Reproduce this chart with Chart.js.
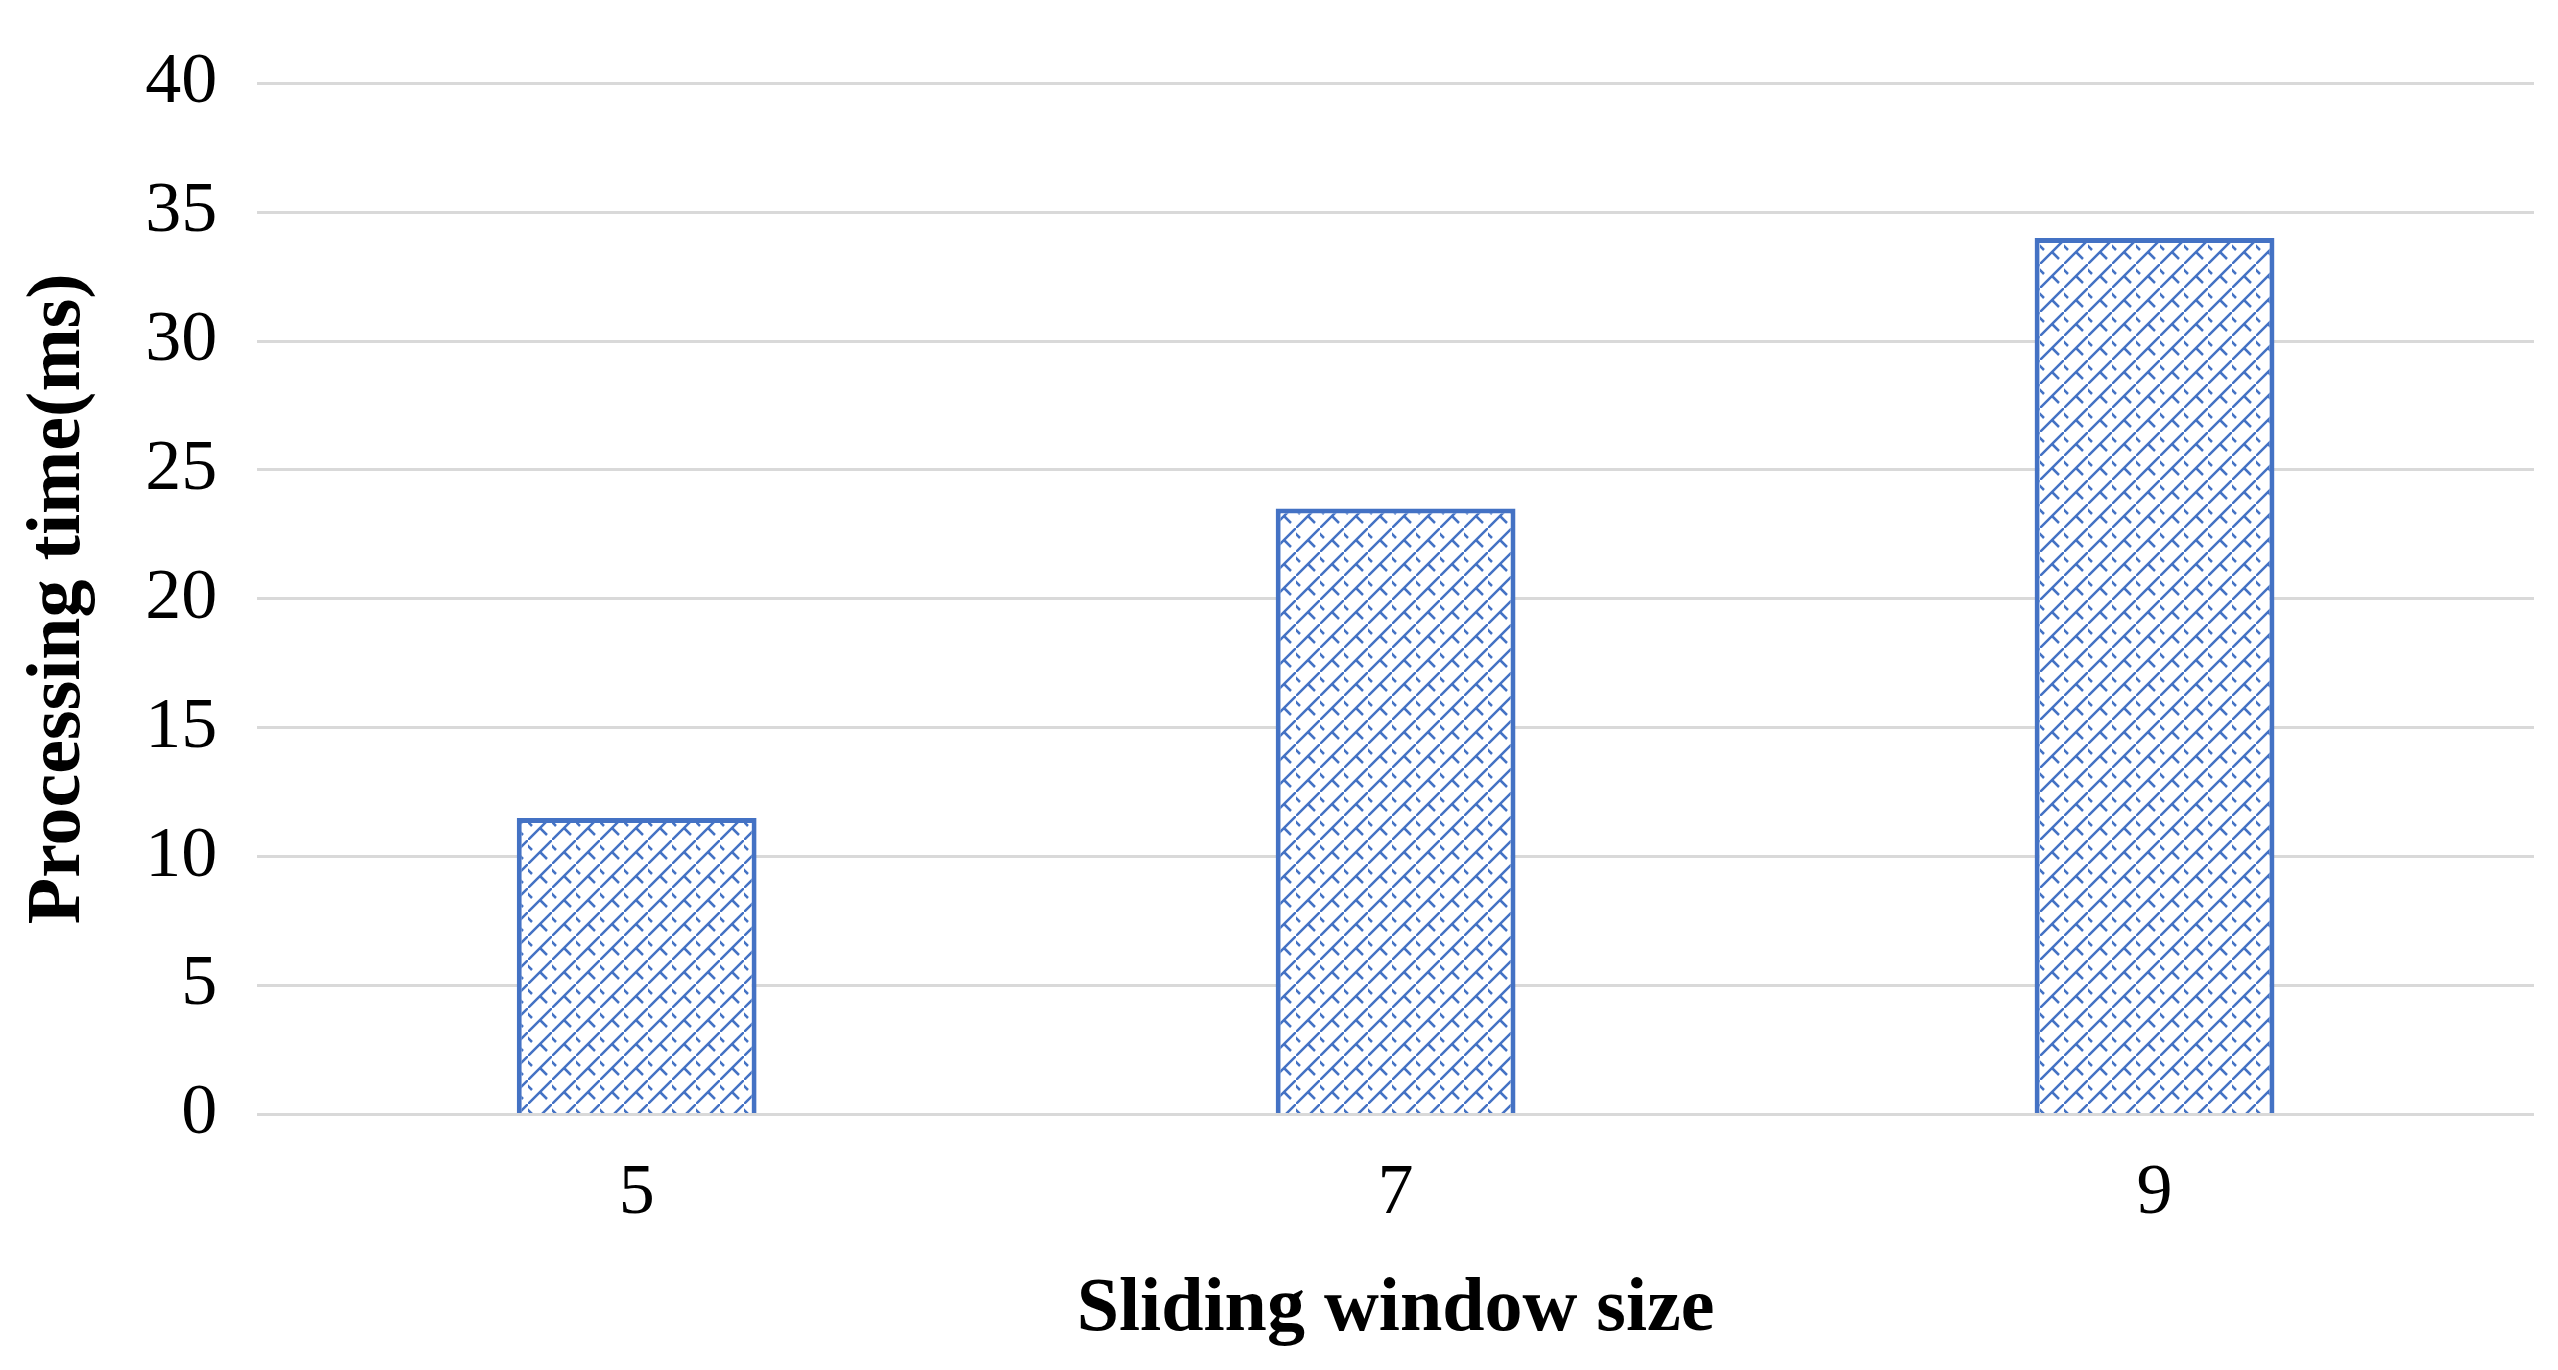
<!DOCTYPE html>
<html>
<head>
<meta charset="utf-8">
<script src="https://cdn.jsdelivr.net/npm/chart.js@4"></script>
<style>
   html, body { margin: 0; padding: 0; background: #fff; }
   #wrap { width: 2558px; height: 1370px; }
</style>
</head>
<body>
<div id="wrap"><canvas id="myChart"></canvas></div>
<script>
const categories = ['5', '7', '9'];
const times = [11.5, 23.5, 34];
const yTicks = [0, 5, 10, 15, 20, 25, 30, 35, 40];

function hatch() {
   const c = document.createElement('canvas');
   c.width = 24; c.height = 24;
   const g = c.getContext('2d');
   g.fillStyle = '#fff';
   g.fillRect(0, 0, 24, 24);
   g.strokeStyle = '#4472C4';
   g.lineWidth = 2.5;
   g.beginPath();
   g.moveTo(0, 24); g.lineTo(24, 0);
   g.moveTo(-3, 3); g.lineTo(4, 10);
   g.moveTo(12, 12); g.lineTo(19, 19);
   g.stroke();
   return g.createPattern(c, 'repeat');
}

const font = 'Liberation Serif, Times New Roman, serif';

new Chart(document.getElementById('myChart').getContext('2d'), {
   type: 'bar',
   data: {
      labels: categories,
      datasets: [{
         data: times,
         backgroundColor: hatch(),
         borderColor: '#4472C4',
         borderWidth: 5,
         barPercentage: 0.316,
         categoryPercentage: 1
      }]
   },
   options: {
      responsive: true,
      maintainAspectRatio: false,
      animation: false,
      layout: { padding: { top: 14, right: 24, bottom: 10, left: 10 } },
      plugins: { legend: { display: false }, tooltip: { enabled: false } },
      scales: {
         x: {
            grid: { display: false },
            border: { display: false },
            ticks: { color: '#000', font: { family: font, size: 72 }, padding: 28 },
            title: { display: true, text: 'Sliding window size', color: '#000',
                     font: { family: font, size: 76, weight: 'bold' }, padding: { top: 0 } }
         },
         y: {
            min: 0, max: 40,
            afterBuildTicks: axis => { axis.ticks = yTicks.map(v => ({ value: v })); },
            grid: { color: '#d9d9d9', lineWidth: 3, drawTicks: false },
            border: { display: false },
            ticks: { color: '#000', font: { family: font, size: 72 }, padding: 40 },
            title: { display: true, text: 'Processing time(ms)', color: '#000',
                     font: { family: font, size: 76, weight: 'bold' }, padding: { bottom: 0 } }
         }
      }
   }
});
</script>
</body>
</html>
